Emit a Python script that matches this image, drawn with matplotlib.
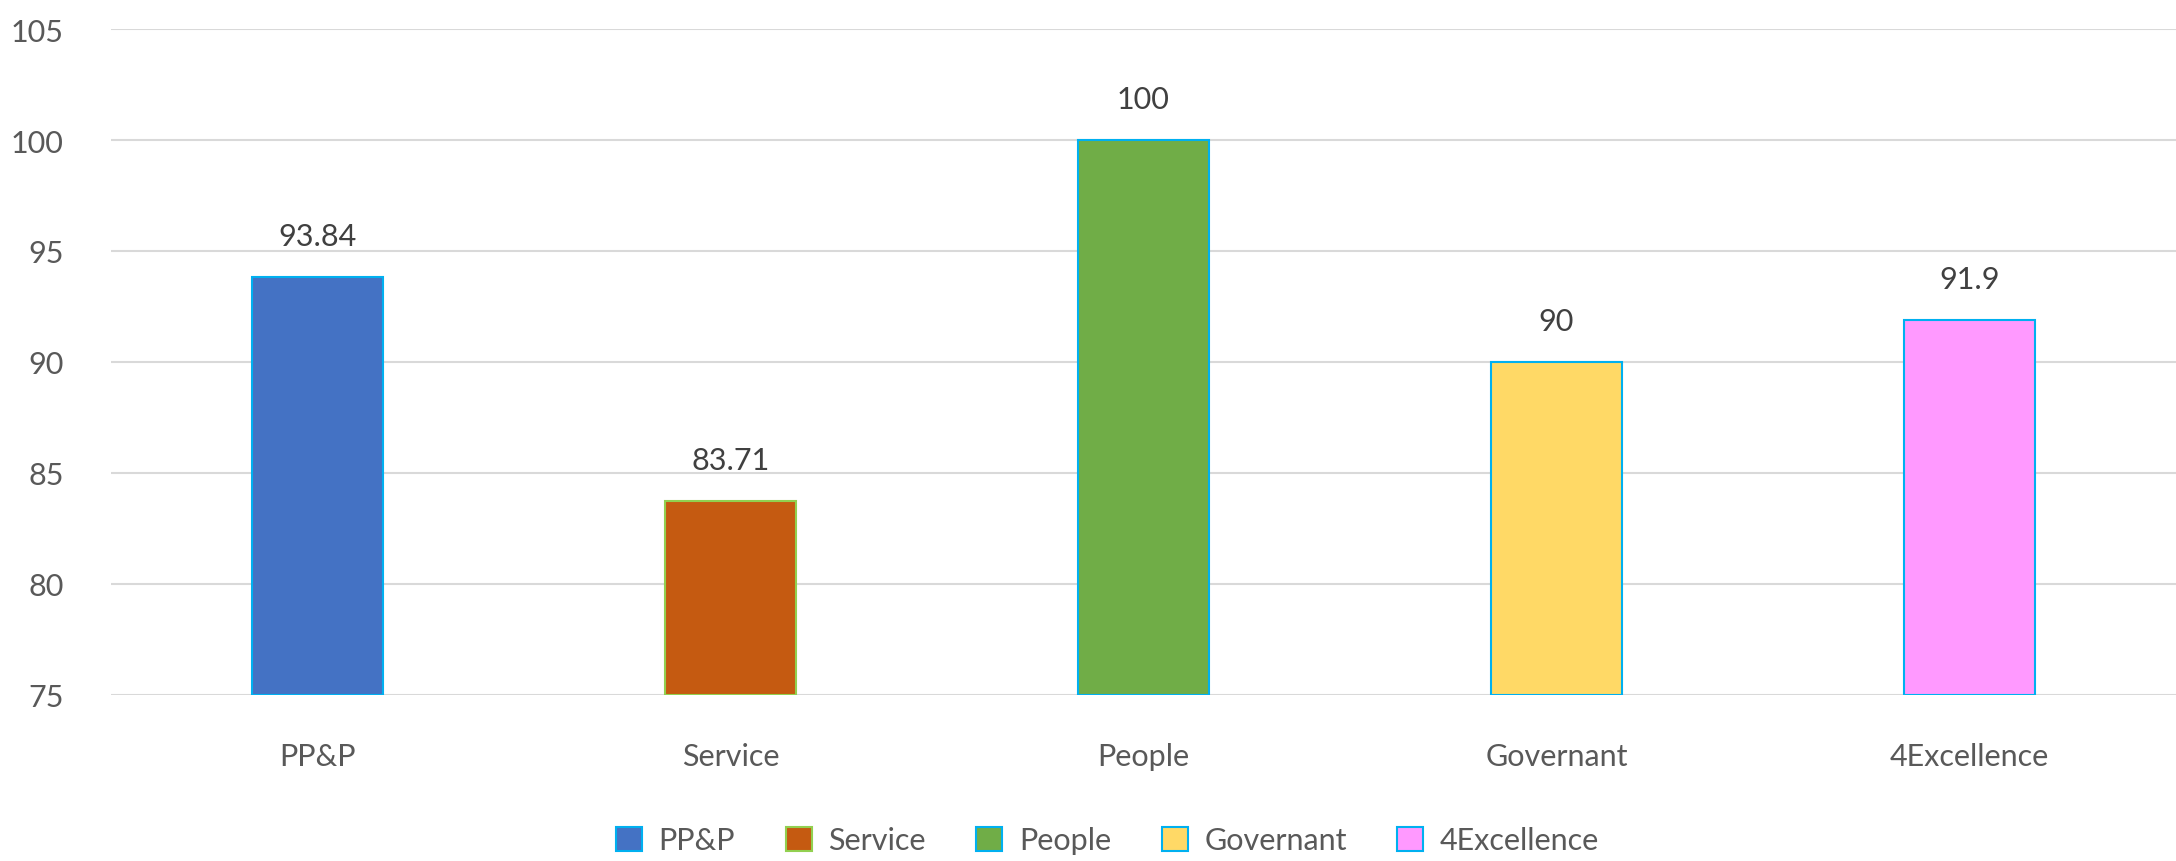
import matplotlib
matplotlib.use("Agg")
import matplotlib.pyplot as plt
from matplotlib.patches import Patch

categories = ["PP&P", "Service", "People", "Governant", "4Excellence"]
values = [93.84, 83.71, 100, 90, 91.9]
value_labels = ["93.84", "83.71", "100", "90", "91.9"]
yticks = [75, 80, 85, 90, 95, 100, 105]

colors = ["#4472C4", "#C55A11", "#70AD47", "#FFD966", "#FF99FF"]
edges = ["#00B0F0", "#92D050", "#00B0F0", "#00B0F0", "#00B0F0"]

plt.rcParams['font.family'] = ['Lato', 'DejaVu Sans']
txt = "#595959"
FS = 22

fig = plt.figure(figsize=(21.76, 8.62), dpi=100)
ax = fig.add_axes([0.051, 0.193, 0.949, 0.772])

x = list(range(len(categories)))
base = yticks[0]
bars = ax.bar(x, [v - base for v in values], bottom=base, width=0.315,
              color=colors, edgecolor=edges, linewidth=1.5, zorder=3)

for xi, v, lab in zip(x, values, value_labels):
    ax.text(xi, v + 1.44, lab, ha="center", va="baseline", fontsize=FS,
            color="#404040")

ax.set_xlim(-0.5, len(categories) - 0.5)
ax.set_ylim(75, 105)
ax.set_yticks(yticks)
ax.set_yticklabels([str(t) for t in yticks], fontsize=FS, color=txt)
ax.set_xticks(x)
ax.set_xticklabels(categories, fontsize=FS, color=txt)
ax.tick_params(axis="both", length=0)
ax.tick_params(axis="y", pad=34)
ax.tick_params(axis="x", pad=34)
ax.grid(axis="y", color="#D9D9D9", linewidth=1.5, zorder=0)
ax.set_axisbelow(True)
for s in ax.spines.values():
    s.set_visible(False)

handles = [Patch(facecolor=c, edgecolor=e, linewidth=1.5, label=l)
           for c, e, l in zip(colors, edges, categories)]
leg = fig.legend(handles=handles, loc="center", bbox_to_anchor=(0.509, 0.024),
                 ncol=5, frameon=False, handlelength=0.85,
                 handleheight=0.85, handletextpad=0.55, columnspacing=1.65,
                 prop={"size": FS})
for t in leg.get_texts():
    t.set_color(txt)

fig.savefig("out.png", dpi=100, facecolor="white")
